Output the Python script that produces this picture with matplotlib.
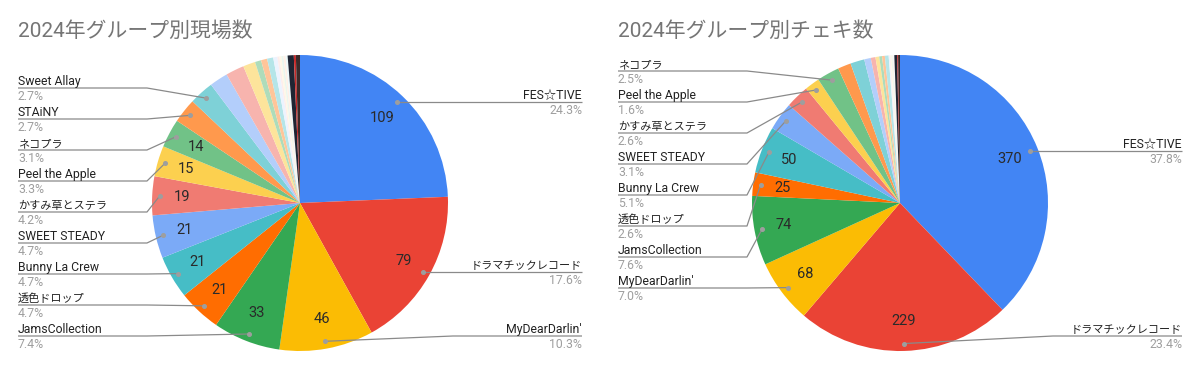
import matplotlib
matplotlib.use('Agg')
import matplotlib.pyplot as plt
import numpy as np

FONT = ['Roboto', 'Noto Sans CJK JP', 'DejaVu Sans']
plt.rcParams['font.family'] = FONT

# ---------------- data ----------------
groups = ['FES☆TIVE', 'ドラマチックレコード', "MyDearDarlin'", 'JamsCollection',
          '透色ドロップ', 'Bunny La Crew', 'SWEET STEADY', 'かすみ草とステラ',
          'Peel the Apple', 'ネコプラ', 'STAiNY', 'Sweet Allay'] + [''] * 15

live_title = '2024年グループ別現場数'
live_counts = [109, 79, 46, 33, 21, 21, 21, 19, 15, 14, 12, 12,
               9, 9, 6, 3, 3, 3, 2, 1, 1, 1, 1, 1, 3, 1, 2]

cheki_title = '2024年グループ別チェキ数'
cheki_counts = [370, 229, 68, 74, 25, 50, 30, 25, 16, 24, 14, 15,
                7, 5, 4, 3, 3, 4, 1, 1, 1, 1, 1, 1, 3, 1, 2]

live_labeled = groups[:12]
cheki_labeled = groups[:10]
live_value_shown = groups[:10]
cheki_value_shown = ['FES☆TIVE', 'ドラマチックレコード', "MyDearDarlin'",
                     'JamsCollection', '透色ドロップ', 'Bunny La Crew']

# ---------------- style ----------------
palette = ['#4285F4', '#EA4335', '#FBBC04', '#34A853', '#FF6D01', '#46BDC6',
           '#7BAAF7', '#F07B72', '#FCD04F', '#71C287', '#FF994D', '#7ED1D7',
           '#B3CEFB', '#F7B4AE', '#FDE49B', '#AEDCBA', '#FFC599', '#B5E5E8',
           '#ECF3FE', '#FDEDEC', '#FEF8E6', '#EBF6EE', '#FFF0E6', '#ECF8F9',
           '#1F2533', '#C62828', '#3A2A2A']

W, H = 1200, 371
R = 148
LINE_C = '#8a8a8a'
NAME_C = '#222222'
PCT_C = '#9e9e9e'
TITLE_C = '#757575'
FS = 8.8


def name_size(s):
    return 8.0 if any(ord(c) >= 0x3000 for c in s) else FS


def Y(py):
    return H - py


fig = plt.figure(figsize=(12, 3.71), dpi=100)
ax = fig.add_axes([0, 0, 1, 1])


def draw(counts, title, labeled, shown, cx, left_start):
    total = sum(counts)
    cy = Y(203)
    wedges, _ = ax.pie(counts, colors=palette[:len(counts)], startangle=90,
                       counterclock=False, radius=R, center=(cx, cy),
                       wedgeprops=dict(linewidth=0))
    x0 = cx - 282
    x_end = cx + 282
    ax.text(x0, Y(31), title, fontsize=15, color=TITLE_C, ha='left', va='center')

    items = []
    for i, (w, name) in enumerate(zip(wedges, groups)):
        mid = np.deg2rad((w.theta1 + w.theta2) / 2)
        if name and name in shown:
            ax.text(cx + 0.8 * R * np.cos(mid), cy + 0.8 * R * np.sin(mid),
                    str(counts[i]), fontsize=10.5, color='#2a2a2a',
                    ha='center', va='center')
        if name and name in labeled:
            dx = cx + 0.95 * R * np.cos(mid)
            dy = cy + 0.95 * R * np.sin(mid)
            items.append((name, counts[i], dx, dy))

    left = sorted([it for it in items if it[2] < cx], key=lambda t: -t[3])
    right = [it for it in items if it[2] >= cx]

    for k, (name, v, dx, dy) in enumerate(left):
        ly = Y(left_start + 31 * k)
        elbow = cx - 153
        ax.plot([x0, elbow, dx], [ly, ly, dy], color=LINE_C, lw=0.9,
                solid_capstyle='butt')
        ax.plot([dx], [dy], 'o', ms=2.6, color=PCT_C)
        ax.text(x0, ly + 3, name, fontsize=name_size(name), color=NAME_C,
                ha='left', va='baseline')
        ax.text(x0, ly - 12, f'{v / total * 100:.1f}%', fontsize=FS,
                color=PCT_C, ha='left', va='baseline')

    for (name, v, dx, dy) in right:
        ly = max(dy, Y(336))
        elbow = cx + R + 5
        ax.plot([dx, elbow, x_end], [dy, ly, ly], color=LINE_C, lw=0.9,
                solid_capstyle='butt')
        ax.plot([dx], [dy], 'o', ms=2.6, color=PCT_C)
        ax.text(x_end, ly + 3, name, fontsize=name_size(name), color=NAME_C,
                ha='right', va='baseline')
        ax.text(x_end, ly - 12, f'{v / total * 100:.1f}%', fontsize=FS,
                color=PCT_C, ha='right', va='baseline')


draw(live_counts, live_title, live_labeled, live_value_shown, 300, 88)
draw(cheki_counts, cheki_title, cheki_labeled, cheki_value_shown, 900, 71)

ax.set_xlim(0, W)
ax.set_ylim(0, H)
ax.set_aspect('equal')
ax.axis('off')
fig.savefig('out.png', dpi=100, facecolor='white')
